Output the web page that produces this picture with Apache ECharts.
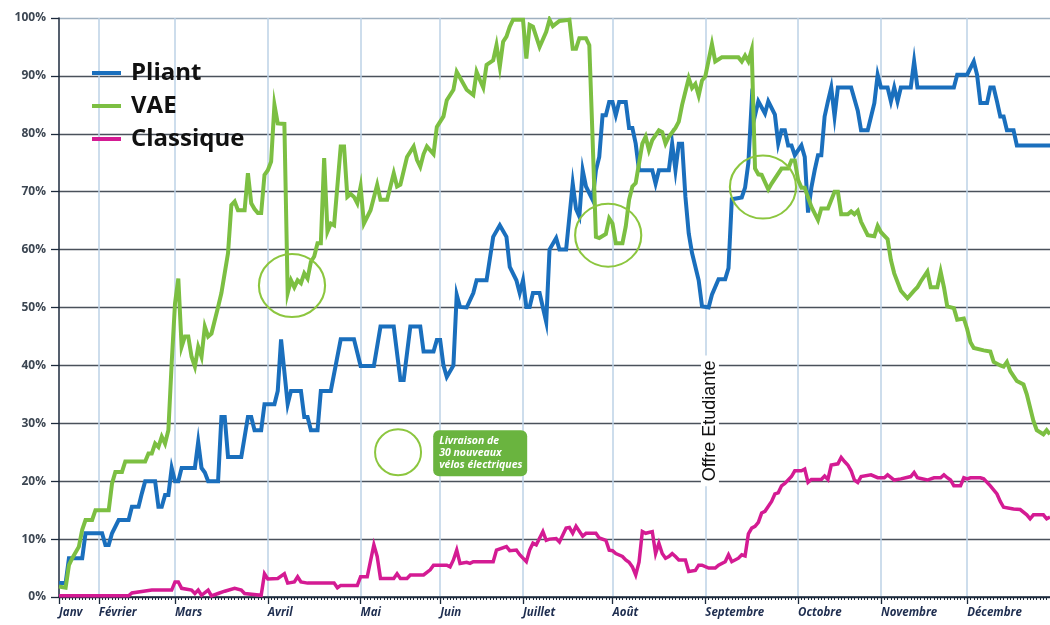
<!DOCTYPE html>
<html>
<head>
<meta charset="utf-8">
<script src="https://cdn.jsdelivr.net/npm/echarts@6/dist/echarts.min.js"></script>
<style>
  html, body { margin: 0; padding: 0; background: #ffffff; }
  #chart { width: 1050px; height: 625px; }
</style>
</head>
<body>
<div id="chart"></div>
<script>
// Daily records over the year (index of the record), month boundaries and labels
const dayCount = 300;
const monthLabels = ['Janv', 'Février', 'Mars', 'Avril', 'Mai', 'Juin', 'Juillet', 'Août', 'Septembre', 'Octobre', 'Novembre', 'Décembre'];
const monthStart = [0, 12, 35, 63, 91, 115, 140, 167, 195, 223, 248, 274];
const yTicks = [0, 10, 20, 30, 40, 50, 60, 70, 80, 90, 100];

// Occupancy rate (%) per bike type, as [record index, value]
const pliant = [[0,2.4],[2,2.4],[3,6.7],[7,6.7],[8,11],[13,11],[14,9],[15,9],[16,11],[18,13.3],[21,13.3],[22,15.6],[24,15.6],[25,17.9],[26,20],[29,20],[30,15.6],[31,15.6],[32,17.6],[33,17.6],[34,22.3],[35,20],[36,20],[37,22.3],[41,22.3],[42,26.8],[43,22.3],[44,21.5],[45,20],[48,20],[49,31.1],[50,31.1],[51,24.2],[55,24.2],[57,31.1],[58,31.1],[59,28.8],[61,28.8],[62,33.3],[65,33.3],[66,35.6],[67,44.5],[69,33.3],[70,35.6],[73,35.6],[74,31.1],[75,31.1],[76,28.8],[78,28.8],[79,35.6],[82,35.6],[85,44.5],[89,44.5],[91,39.9],[95,39.9],[97,46.7],[101,46.7],[103,37.5],[104,37.5],[106,46.7],[109,46.7],[110,42.4],[113,42.4],[114,44.4],[115,44.4],[116,40],[117,38],[119,40],[120,52.2],[121,50.1],[123,50],[125,52.5],[126,54.7],[129,54.7],[131,62.2],[133,64.2],[135,62.2],[136,57],[138,54.7],[139,52.5],[140,54.7],[141,50.1],[142,50.1],[143,52.5],[145,52.5],[147,47.5],[148,60],[150,62],[151,60],[153,60],[155,71.4],[156,67],[157,65.7],[158,73.7],[159,70.9],[161,68.6],[162,73.7],[163,76],[164,83.2],[165,83.2],[166,85.5],[167,85.5],[168,83.2],[169,85.5],[171,85.5],[172,81],[173,81],[174,78.3],[175,73.7],[179,73.7],[180,71.4],[181,73.7],[184,73.7],[185,78.3],[186,73.7],[187,78.3],[188,78.3],[189,69.1],[190,62.8],[191,59.4],[193,54.7],[194,50.2],[196,50],[197,52.2],[199,54.9],[201,54.9],[202,56.8],[203,68.7],[206,69],[207,70.7],[208,75],[209,85.6],[210,83.2],[211,85.6],[213,83.5],[214,85.6],[216,83.3],[217,78.3],[218,80.6],[219,80.6],[220,78],[221,78],[222,76.3],[224,78],[225,76],[226,66.4],[227,70.7],[228,73.7],[229,76.3],[230,76.3],[231,83],[232,85.6],[233,88],[234,83],[235,88],[239,88],[241,84],[242,80.6],[244,80.6],[246,85.3],[247,90.2],[248,88],[250,88],[251,85.6],[252,88],[253,85.6],[254,88],[257,88],[258,92.5],[259,88],[270,88],[271,90.2],[274,90.2],[276,92.5],[277,90.2],[278,85.3],[280,85.3],[281,88],[282,88],[283,85.6],[284,83],[285,83],[286,80.6],[288,80.6],[289,78],[299,78]];

const vae = [[0,1.8],[2,1.6],[3,5.5],[4,6.7],[6,8.7],[7,11.6],[8,13.3],[10,13.3],[11,15],[15,15],[16,19.6],[17,21.6],[19,21.6],[20,23.4],[26,23.4],[27,24.8],[28,24.8],[29,26.5],[30,25.9],[31,27.7],[32,26.5],[33,28.8],[34,40.4],[35,50.7],[36,55],[37,43.2],[38,45],[39,45],[40,41.5],[41,39.8],[42,43.2],[43,41.5],[44,46.7],[45,45],[46,45.5],[48,50.1],[49,52.5],[51,59.4],[52,67.7],[53,68.3],[54,66.8],[56,66.8],[57,73.2],[58,68],[59,67],[60,66.3],[61,66.3],[62,72.9],[63,73.7],[64,75.2],[65,85],[66,81.8],[68,81.7],[69,52.5],[70,54.7],[71,53.5],[72,54.7],[73,54.2],[74,55.9],[75,55],[76,57.9],[77,58.8],[78,61.1],[79,61.1],[80,75.8],[81,63.1],[82,64.5],[83,64.2],[85,77.8],[86,77.8],[87,69.1],[88,69.6],[89,69.1],[90,68],[91,70.9],[92,64.5],[94,66.8],[96,71.2],[97,68.6],[99,68.6],[101,73.2],[102,70.9],[103,71.2],[105,76],[107,77.8],[108,75.5],[109,74.3],[110,76.5],[111,77.8],[113,76.5],[114,81.2],[116,83],[117,85.8],[118,86.7],[119,87.6],[120,90.7],[123,87.6],[125,86.7],[126,90.7],[127,89.3],[128,88],[129,91.9],[131,92.7],[132,95.3],[133,91.6],[134,95.9],[135,96.8],[136,98.5],[137,99.7],[140,99.7],[141,93],[142,98.8],[143,98.5],[145,95],[147,97.6],[148,99.7],[149,98.6],[151,99.5],[154,99.7],[155,94.7],[156,94.7],[157,96.5],[159,96.5],[160,95.3],[161,79],[162,62.2],[163,62],[165,62.7],[166,65.4],[167,64.5],[168,61.1],[170,61.1],[171,64],[172,68.6],[173,70.9],[174,71.5],[176,78.3],[177,79.5],[178,77.2],[179,78.9],[181,80.6],[182,80.3],[183,78.3],[184,79.5],[186,81],[187,82.1],[188,85],[190,89.6],[191,87.9],[192,88.6],[193,86.6],[194,89.2],[195,89.9],[197,95.5],[198,92.5],[200,93.2],[205,93.2],[206,92.5],[207,93.5],[208,92.5],[209,94.5],[210,74],[211,73],[212,72.9],[214,70.4],[215,71.4],[218,74],[220,74],[221,75.4],[222,75.4],[223,72],[224,70.7],[225,70.7],[226,69],[227,67.4],[229,65.1],[230,67.1],[232,67.1],[234,70],[235,70],[236,66.1],[238,66.1],[239,66.6],[240,66.1],[241,66.7],[242,64.8],[244,62.5],[246,62.3],[247,64.1],[248,63],[250,61.8],[251,58.2],[252,55.9],[254,52.9],[256,51.6],[258,52.9],[259,53.5],[260,54.5],[262,56.2],[263,53.5],[265,53.5],[266,56.2],[267,53.5],[268,50.2],[270,49.9],[271,47.9],[273,48.1],[274,46.3],[275,44],[276,43],[279,42.6],[281,42.4],[282,40.6],[284,40],[285,39.8],[286,40.6],[287,39],[289,37.3],[291,36.7],[292,35],[294,30.4],[295,28.8],[297,28.1],[298,28.8],[299,28.1]];

const classique = [[0,0.2],[21,0.2],[22,0.7],[28,1.2],[34,1.2],[35,2.6],[36,2.6],[37,1.5],[40,1.2],[41,0.6],[42,1.2],[43,0.3],[45,1.2],[46,0.2],[48,0.6],[50,1],[53,1.5],[55,1.2],[56,0.6],[61,0.3],[62,4],[63,3.1],[66,3.2],[68,4],[69,2.4],[71,2.6],[72,3.5],[73,2.6],[75,2.4],[83,2.4],[84,1.6],[85,2],[90,2],[91,3.5],[93,3.5],[95,9],[96,7],[97,3.2],[101,3.2],[102,4],[103,3.2],[105,3.2],[106,3.8],[110,3.8],[112,4.7],[113,5.5],[117,5.5],[118,5.2],[119,6.4],[120,8.1],[121,5.8],[123,6],[124,5.8],[125,6.1],[131,6.1],[132,8.1],[135,8.7],[136,8],[138,8.1],[139,7.3],[141,6.1],[142,8.1],[143,9.3],[144,9],[146,11.3],[147,9.8],[148,10],[150,10.1],[151,9.5],[153,11.9],[154,12],[155,11],[156,12.2],[158,10.5],[159,11],[162,11],[163,10.2],[165,9.8],[166,8.1],[167,8],[168,7.5],[170,7],[171,6.4],[172,6],[173,5.2],[174,3.8],[175,6],[176,11.3],[177,11],[179,11.3],[180,7.5],[181,9.3],[182,7.5],[183,6.7],[184,7],[185,7.5],[186,7],[187,6.4],[189,6.4],[190,4.4],[192,4.6],[193,5.5],[194,5.5],[196,5],[198,5],[199,5.5],[201,6.1],[202,7.3],[203,6.1],[205,6.7],[206,7.3],[207,7.1],[208,10.9],[209,11.9],[210,12.2],[211,12.9],[212,14.5],[213,14.8],[215,16.5],[216,17.8],[217,18],[218,19.2],[219,19.6],[221,20.8],[222,21.8],[224,21.8],[225,22.1],[226,19.8],[227,20.3],[230,20.3],[231,20.9],[232,20.3],[233,22.8],[235,23],[236,24.1],[237,23.4],[238,22.8],[239,21.8],[240,20.2],[241,19.8],[242,20.8],[245,21.1],[247,20.6],[249,20.6],[250,21.1],[252,20.2],[254,20.4],[257,20.8],[258,21.5],[259,20.6],[262,20.2],[264,20.6],[266,20.6],[267,21.1],[268,20.6],[269,20.2],[270,19.2],[272,19.2],[273,20.6],[274,20.4],[275,20.6],[278,20.6],[279,20.4],[281,19.2],[283,17.8],[284,16.5],[285,15.5],[288,15.2],[290,15.1],[292,14.2],[293,13.5],[294,14.2],[297,14.2],[298,13.5],[299,13.8]];

// Annotations placed in data space: [record index, %]
const highlightRings = [[70.3, 53.8], [165.7, 62.5], [212.4, 70.8]];
const deliveryRing = [102.3, 25];
const deliveryNoteCorner = [112.9, 28.8];
const deliveryNote = ['Livraison de', '30 nouveaux', 'vélos électriques'];
const studentOfferAt = [196.4, 30.4];
const studentOffer = 'Offre Etudiante';

const categories = [];
for (let i = 0; i < dayCount; i++) categories.push(String(i));

const COLORS = { pliant: '#1a6fbd', vae: '#7cbf42', classique: '#d41b93' };
const RING = '#8cc63f';
const isMonthStart = (idx) => monthStart.indexOf(idx) !== -1;

const chart = echarts.init(document.getElementById('chart'), null, { renderer: 'canvas' });

const option = {
  animation: false,
  backgroundColor: '#ffffff',
  grid: { left: 59, right: 0, top: 18, bottom: 28, containLabel: false },
  legend: {
    orient: 'vertical',
    left: 87,
    top: 55,
    icon: 'rect',
    itemWidth: 29,
    itemHeight: 4,
    itemGap: 7,
    selectedMode: false,
    textStyle: {
      fontFamily: '"Open Sans", sans-serif',
      fontWeight: 'bold',
      fontSize: 24,
      lineHeight: 26,
      color: '#111111',
      padding: [0, 0, 0, 5]
    },
    data: ['Pliant', 'VAE', 'Classique']
  },
  xAxis: [
    {
      type: 'category',
      position: 'bottom',
      data: categories,
      boundaryGap: false,
      axisLine: { show: true, lineStyle: { color: '#1c2a3c', width: 1.5 } },
      axisTick: { show: true, interval: 0, length: 3, lineStyle: { color: '#1c2a3c', width: 1 } },
      axisLabel: { show: false },
      splitLine: { show: false }
    },
    {
      type: 'category',
      position: 'bottom',
      data: categories,
      boundaryGap: false,
      axisLine: { show: false },
      axisTick: { show: true, interval: (idx) => isMonthStart(idx), length: 7, lineStyle: { color: '#1c2a3c', width: 1.3 } },
      axisLabel: {
        show: true,
        interval: (idx) => isMonthStart(idx),
        formatter: (value, idx) => monthLabels[monthStart.indexOf(idx)],
        align: 'left',
        margin: 10,
        fontFamily: '"Open Sans", sans-serif',
        fontWeight: 'bold',
        fontStyle: 'italic',
        fontSize: 11.5,
        color: '#1e2d4f'
      },
      splitLine: {
        show: true,
        interval: (idx) => isMonthStart(idx) && idx > 0,
        lineStyle: { color: '#bcd2e6', width: 1.5 }
      }
    }
  ],
  yAxis: {
    type: 'value',
    min: 0,
    max: 100,
    interval: 10,
    axisLine: { show: true, lineStyle: { color: '#1c2a3c', width: 1.5 } },
    axisTick: { show: true, length: 8, lineStyle: { color: '#1c2a3c', width: 1.3 } },
    axisLabel: {
      formatter: (v) => yTicks.indexOf(v) !== -1 ? v + '%' : '',
      margin: 13,
      fontFamily: '"Open Sans", sans-serif',
      fontWeight: 'bold',
      fontSize: 12,
      color: '#3c4652'
    },
    splitLine: {
      show: true,
      lineStyle: {
        color: ['#1c2a3c', '#4a515b', '#4a515b', '#4a515b', '#4a515b', '#4a515b', '#4a515b', '#4a515b', '#4a515b', '#4a515b', '#9fb0c0'],
        width: 1.4
      }
    }
  },
  series: [
    {
      name: 'Pliant', type: 'line', data: pliant, showSymbol: false, symbol: 'none',
      lineStyle: { color: COLORS.pliant, width: 4, join: 'miter' },
      itemStyle: { color: COLORS.pliant }, z: 3
    },
    {
      name: 'VAE', type: 'line', data: vae, showSymbol: false, symbol: 'none',
      lineStyle: { color: COLORS.vae, width: 4, join: 'miter' },
      itemStyle: { color: COLORS.vae }, z: 4
    },
    {
      name: 'Classique', type: 'line', data: classique, showSymbol: false, symbol: 'none',
      lineStyle: { color: COLORS.classique, width: 3.5, join: 'miter' },
      itemStyle: { color: COLORS.classique }, z: 5
    }
  ]
};

chart.setOption(option);

// Linear mapping from (record index, %) to pixels, allowing fractional positions
const origin = chart.convertToPixel({ gridIndex: 0 }, [0, 0]);
const corner = chart.convertToPixel({ gridIndex: 0 }, [dayCount - 1, 100]);
const toPx = (p) => [
  origin[0] + (corner[0] - origin[0]) * p[0] / (dayCount - 1),
  origin[1] + (corner[1] - origin[1]) * p[1] / 100
];

const graphics = [];
highlightRings.forEach((p) => {
  const c = toPx(p);
  graphics.push({
    type: 'circle', x: c[0], y: c[1], scaleX: 1.05,
    shape: { cx: 0, cy: 0, r: 31.5 },
    style: { fill: 'none', stroke: RING, lineWidth: 2 },
    z: 20
  });
});
const dr = toPx(deliveryRing);
graphics.push({
  type: 'circle', x: dr[0], y: dr[1],
  shape: { cx: 0, cy: 0, r: 23 },
  style: { fill: 'none', stroke: RING, lineWidth: 2 },
  z: 20
});
const nc = toPx(deliveryNoteCorner);
graphics.push({
  type: 'group', x: nc[0], y: nc[1], z: 20,
  children: [
    { type: 'rect', shape: { x: 0, y: 0, width: 94, height: 46, r: 6 }, style: { fill: '#6ab43f' } },
    {
      type: 'text', x: 6, y: 5,
      style: {
        text: deliveryNote.join('\n'),
        fill: '#ffffff',
        font: 'italic bold 10.5px "Open Sans", sans-serif',
        lineHeight: 12,
        align: 'left',
        verticalAlign: 'top'
      }
    }
  ]
});
const so = toPx(studentOfferAt);
graphics.push({
  type: 'text', x: so[0], y: so[1], rotation: Math.PI / 2, z: 20,
  style: {
    text: studentOffer,
    fill: '#111111',
    font: '18px "Liberation Sans", Arial, sans-serif',
    align: 'center',
    verticalAlign: 'middle',
    backgroundColor: '#ffffff',
    padding: [0, 5]
  }
});

chart.setOption({ graphic: graphics });
</script>
</body>
</html>
